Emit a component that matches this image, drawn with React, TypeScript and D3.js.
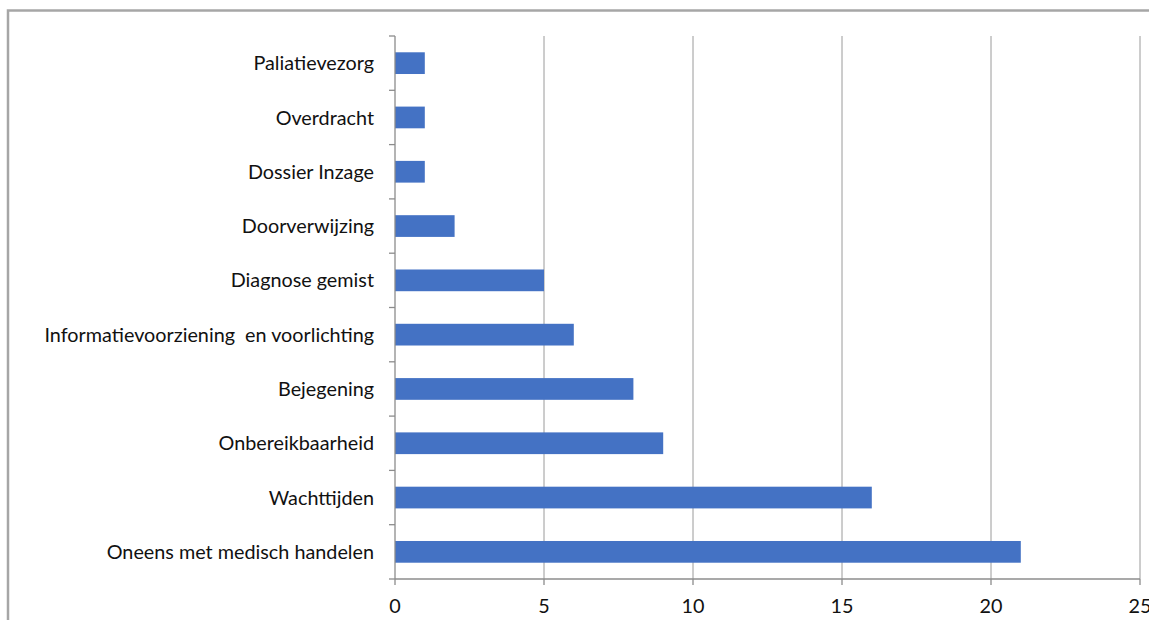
import React from "react";
import * as d3 from "d3";

// Complaint categories, listed top to bottom as shown on the y axis
const categories: string[] = [
  "Paliatievezorg",
  "Overdracht",
  "Dossier Inzage",
  "Doorverwijzing",
  "Diagnose gemist",
  "Informatievoorziening  en voorlichting",
  "Bejegening",
  "Onbereikbaarheid",
  "Wachttijden",
  "Oneens met medisch handelen",
];

// Number of complaints per category
const counts: number[] = [1, 1, 1, 2, 5, 6, 8, 9, 16, 21];

// x axis ticks
const xTicks: number[] = [0, 5, 10, 15, 20, 25];

const W = 1149;
const H = 620;
const plot = { left: 395, right: 1140, top: 36, bottom: 579 };
const FONT = "Lato, 'Open Sans', sans-serif";
const FS = 19.8;

export default function App() {
  const x = d3.scaleLinear().domain([0, 25]).range([plot.left, plot.right]);
  const y = d3
    .scaleBand<string>()
    .domain(categories)
    .range([plot.top, plot.bottom])
    .paddingInner(0.6)
    .paddingOuter(0.3);

  const step = y.step();
  const bandEdges = d3.range(categories.length + 1).map((i) => plot.top + i * step);

  return (
    <svg
      width={W}
      height={H}
      style={{ position: "fixed", left: 0, top: 0, background: "#fff" }}
      fontFamily={FONT}
    >
      {/* chart area border */}
      <rect
        x={8}
        y={10.5}
        width={W + 20}
        height={H + 20}
        fill="#fff"
        stroke="#a6a6a6"
        strokeWidth={2.5}
      />

      {/* vertical gridlines */}
      {xTicks
        .filter((t) => t > 0)
        .map((t) => (
          <line
            key={"g" + t}
            x1={x(t)}
            x2={x(t)}
            y1={plot.top}
            y2={plot.bottom}
            stroke="#9a9a9a"
            strokeWidth={1}
          />
        ))}

      {/* bars */}
      {categories.map((c, i) => (
        <rect
          key={c}
          x={x(0)}
          y={y(c)!}
          width={x(counts[i]) - x(0)}
          height={y.bandwidth()}
          fill="#4472C4"
        />
      ))}

      {/* y axis line and ticks */}
      <line x1={plot.left} x2={plot.left} y1={plot.top} y2={plot.bottom} stroke="#8c8c8c" strokeWidth={1.3} />
      {bandEdges.map((e, i) => (
        <line key={"yt" + i} x1={plot.left - 6} x2={plot.left} y1={e} y2={e} stroke="#8c8c8c" strokeWidth={1.3} />
      ))}

      {/* x axis line and ticks */}
      <line x1={plot.left} x2={plot.right} y1={plot.bottom} y2={plot.bottom} stroke="#8c8c8c" strokeWidth={1.3} />
      {xTicks.map((t) => (
        <line key={"xt" + t} x1={x(t)} x2={x(t)} y1={plot.bottom} y2={plot.bottom + 6} stroke="#8c8c8c" strokeWidth={1.3} />
      ))}

      {/* category labels */}
      {categories.map((c) => (
        <text
          key={"l" + c}
          x={374}
          y={y(c)! + y.bandwidth() / 2}
          dy={FS * 0.36}
          textAnchor="end"
          fontSize={FS}
          fill="#111"
          style={{ whiteSpace: "pre" }}
        >
          {c}
        </text>
      ))}

      {/* value labels */}
      {xTicks.map((t) => (
        <text key={"xl" + t} x={x(t)} y={613} textAnchor="middle" fontSize={FS} fill="#111">
          {t}
        </text>
      ))}
    </svg>
  );
}
